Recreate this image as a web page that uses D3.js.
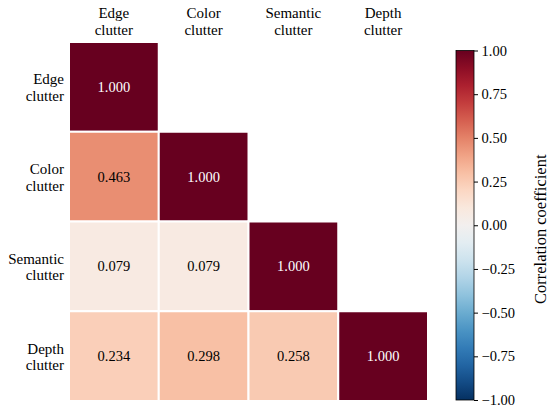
<!DOCTYPE html>
<html>
<head>
<meta charset="utf-8">
<script src="https://cdn.jsdelivr.net/npm/d3@7"></script>
<style>
  body { margin: 0; background: #fff; }
  text { font-family: "Liberation Serif", "Times New Roman", serif; }
</style>
</head>
<body>
<div class="render"></div>
<script>
var labels = ["Edge clutter", "Color clutter", "Semantic clutter", "Depth clutter"];
// lower triangle, row by row (row i has i+1 values)
var corrRows = [
    [1.000],
    [0.463, 1.000],
    [0.079, 0.079, 1.000],
    [0.234, 0.298, 0.258, 1.000]
];
var cbarTicks = [-1, -0.75, -0.5, -0.25, 0, 0.25, 0.5, 0.75, 1];

var width = 550, height = 413;
var svg = d3.select(".render").append("svg")
    .attr("width", width).attr("height", height);

var x = d3.scaleBand().domain(labels).range([69, 428]);
var y = d3.scaleBand().domain(labels).range([42, 401]);
var color = function(v) { return d3.interpolateRdBu((1 - v) / 2); };

var cells = [];
corrRows.forEach(function(row, i) {
    row.forEach(function(v, j) {
        cells.push({ row: labels[i], col: labels[j], value: v });
    });
});

var gCell = svg.selectAll("g.cell").data(cells).enter().append("g")
    .attr("class", "cell");

gCell.append("rect")
    .attr("x", function(d) { return x(d.col); })
    .attr("y", function(d) { return y(d.row); })
    .attr("width", x.bandwidth())
    .attr("height", y.bandwidth())
    .attr("fill", function(d) { return color(d.value); })
    .attr("stroke", "#fff")
    .attr("stroke-width", 2);

gCell.append("text")
    .attr("x", function(d) { return x(d.col) + x.bandwidth() / 2; })
    .attr("y", function(d) { return y(d.row) + y.bandwidth() / 2; })
    .attr("dy", "0.35em")
    .attr("text-anchor", "middle")
    .attr("font-size", 14.5)
    .attr("fill", function(d) { return Math.abs(d.value) > 0.6 ? "#fff" : "#000"; })
    .text(function(d) { return d3.format(".3f")(d.value); });

// column labels on top
var colLab = svg.selectAll("text.collab").data(labels).enter().append("text")
    .attr("class", "collab")
    .attr("text-anchor", "middle")
    .attr("font-size", 15)
    .attr("x", function(d) { return x(d) + x.bandwidth() / 2; })
    .attr("y", 18);
colLab.each(function(d) {
    var parts = d.split(" ");
    var t = d3.select(this);
    parts.forEach(function(p, k) {
        t.append("tspan").attr("x", t.attr("x")).attr("dy", k ? 16.5 : 0).text(p);
    });
});

// row labels on left
var rowLab = svg.selectAll("text.rowlab").data(labels).enter().append("text")
    .attr("class", "rowlab")
    .attr("text-anchor", "end")
    .attr("font-size", 15)
    .attr("x", 64)
    .attr("y", function(d) { return y(d) + y.bandwidth() / 2 - 2.5; });
rowLab.each(function(d) {
    var parts = d.split(" ");
    var t = d3.select(this);
    parts.forEach(function(p, k) {
        t.append("tspan").attr("x", 64).attr("dy", k ? 16.5 : 0).text(p);
    });
});

// colorbar
var cb = { x: 456, w: 18, top: 50.5, bottom: 400 };
var cbScale = d3.scaleLinear().domain([-1, 1]).range([cb.bottom, cb.top]);

var defs = svg.append("defs");
var grad = defs.append("linearGradient").attr("id", "cbgrad")
    .attr("x1", 0).attr("y1", 1).attr("x2", 0).attr("y2", 0);
d3.range(0, 1.0001, 0.05).forEach(function(t) {
    grad.append("stop").attr("offset", t).attr("stop-color", color(t * 2 - 1));
});

svg.append("rect")
    .attr("x", cb.x).attr("y", cb.top)
    .attr("width", cb.w).attr("height", cb.bottom - cb.top)
    .attr("fill", "url(#cbgrad)")
    .attr("stroke", "#000").attr("stroke-width", 0.8);

var cbAxis = svg.append("g")
    .attr("transform", "translate(" + (cb.x + cb.w) + ",0)")
    .call(d3.axisRight(cbScale).tickValues(cbarTicks).tickFormat(d3.format(".2f")).tickSize(4).tickPadding(3.5));
cbAxis.select(".domain").remove();
cbAxis.selectAll("text").attr("font-size", 14.5).attr("font-family", "Liberation Serif").attr("fill", "#000");
cbAxis.selectAll("line").attr("stroke", "#000");

svg.append("text")
    .attr("transform", "translate(546," + ((cb.top + cb.bottom) / 2 + 4) + ") rotate(-90)")
    .attr("text-anchor", "middle")
    .attr("font-size", 16.5)
    .text("Correlation coefficient");
</script>
</body>
</html>
